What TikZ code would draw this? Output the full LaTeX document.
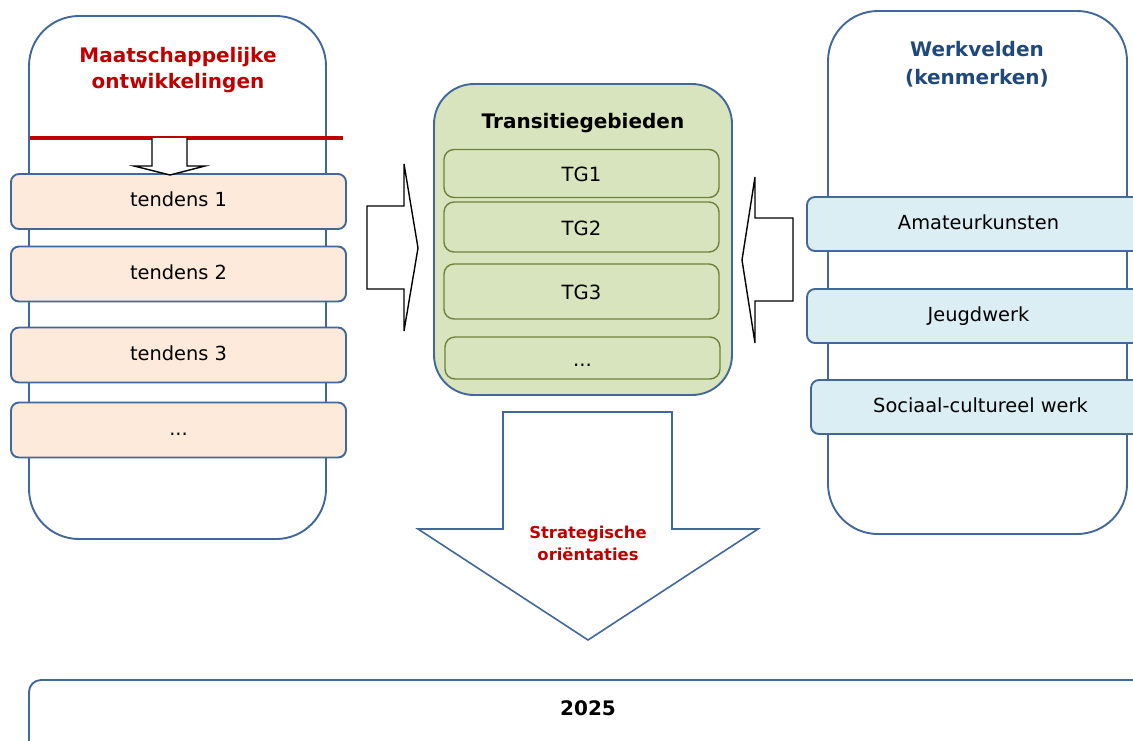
\documentclass[tikz,border=0pt]{standalone}
\usepackage{fontspec}
\setmainfont{DejaVu Sans}
\usepackage{xcolor}

\definecolor{frameblue}{RGB}{65,103,155}
\definecolor{peach}{RGB}{253,234,218}
\definecolor{sage}{RGB}{215,228,189}
\definecolor{olive}{RGB}{110,130,60}
\definecolor{iceblue}{RGB}{219,238,244}
\definecolor{darkred}{RGB}{192,0,0}
\definecolor{navy}{RGB}{31,73,125}

\begin{document}
\begin{tikzpicture}[x=0.5pt,y=-0.5pt]
    \tikzstyle{column}=[draw=frameblue,line width=0.95pt,rounded corners=25pt]
    \tikzstyle{title}=[align=center,font=\fontsize{10}{13}\selectfont\bfseries]
    \tikzstyle{tend}=[draw=frameblue,line width=0.95pt,fill=peach,rounded corners=4pt,
        minimum width=167.5pt,minimum height=27.5pt,text height=7pt,text depth=2pt,
        font=\fontsize{9.7}{12}\selectfont]
    \tikzstyle{tg}=[draw=olive,line width=0.7pt,fill=sage,rounded corners=5pt,
        minimum width=137.5pt,text height=8.5pt,text depth=0.5pt,
        font=\fontsize{9.8}{12}\selectfont]
    \tikzstyle{field}=[draw=frameblue,line width=0.95pt,fill=iceblue,rounded corners=4pt,
        minimum width=171.5pt,minimum height=27pt,text height=7pt,text depth=2pt,
        font=\fontsize{9.7}{12}\selectfont]
    \tikzstyle{blockarrow}=[draw=black,line width=0.7pt,fill=white,line join=miter]

    \useasboundingbox (0,0) rectangle (1133,740);
    \clip (0,0) rectangle (1133,740);

    % Left column
    \draw [column] (29,16) rectangle (326,539);
    \node [title,text=darkred] (maat) at (178,70) {Maatschappelijke\\ontwikkelingen};
    \draw [darkred,line width=2pt] (30,138) -- (343,138);

    \node [tend] (t1) at (178.5,201.5) {tendens 1};
    \node [tend] (t2) at (178.5,274) {tendens 2};
    \node [tend] (t3) at (178.5,355) {tendens 3};
    \node [tend] (t4) at (178.5,430) {...};

    \draw [blockarrow] (152,138) -- (152,166) -- (134,166) -- (170,175)
        -- (205,166) -- (187,166) -- (187,138);

    % Centre column
    \draw [column,fill=sage,rounded corners=20pt] (434,84) rectangle (732,395);
    \node [title] (trans) at (583,123) {Transitiegebieden};
    \node [tg,minimum height=24pt] (tg1) at (581.5,173.5) {TG1};
    \node [tg,minimum height=25pt] (tg2) at (581.5,227) {TG2};
    \node [tg,minimum height=27.5pt] (tg3) at (581.5,291.5) {TG3};
    \node [tg,minimum height=21pt] (tg4) at (582.5,358) {...};

    % Right column
    \draw [column] (828,11) rectangle (1127,534);
    \node [title,text=navy,font=\fontsize{10}{14}\selectfont\bfseries] (werk) at (977,64) {Werkvelden\\(kenmerken)};
    \node [field] (amat) at (978.5,224) {Amateurkunsten};
    \node [field] (jeugd) at (978.5,316) {Jeugdwerk};
    \node [field,minimum width=169.5pt] (socu) at (980.5,407) {Sociaal-cultureel werk};

    % Block arrows
    \draw [blockarrow] (367,206) -- (404,206) -- (404,164) -- (418,248)
        -- (404,331) -- (404,289) -- (367,289) -- cycle;
    \draw [blockarrow] (793,218) -- (755,218) -- (755,177) -- (742,260)
        -- (755,343) -- (755,301) -- (793,301) -- cycle;
    \draw [blockarrow,draw=frameblue,line width=0.8pt] (503,412) -- (672,412) -- (672,529) -- (758,529)
        -- (588,640) -- (418,529) -- (503,529) -- cycle;
    \node [align=center,text=darkred,font=\fontsize{8.2}{11}\selectfont\bfseries]
        (strat) at (588,543) {Strategische\\oriëntaties};

    % Goal
    \draw [draw=frameblue,line width=0.95pt,rounded corners=6pt] (29,680) rectangle (1147,800);
    \node [font=\fontsize{10}{12}\selectfont\bfseries] (year) at (588,708) {2025};

\end{tikzpicture}
\end{document}
